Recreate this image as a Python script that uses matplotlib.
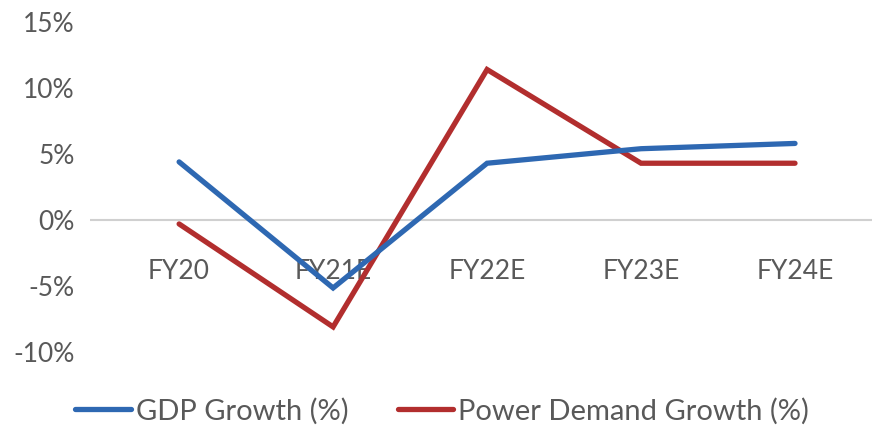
import matplotlib.pyplot as plt
import numpy as np

# data
years = ["FY20", "FY21E", "FY22E", "FY23E", "FY24E"]
gdp_growth = [4.4, -5.15, 4.3, 5.4, 5.8]
power_growth = [-0.3, -8.1, 11.4, 4.3, 4.3]

blue = "#2E68B2"
red = "#B22E2E"
grey = "#595959"

plt.rcParams['font.family'] = ['Lato', 'DejaVu Sans']

fig = plt.figure(figsize=(8.72, 4.28), dpi=100)
ax = fig.add_axes([0.103, 0.1776, 0.897, 0.771])

x = np.arange(len(years))
ax.axhline(0, color="#D0D0D0", linewidth=1.5, zorder=1)
ax.plot(x, gdp_growth, color=blue, linewidth=3.8, label="GDP Growth (%)",
        solid_capstyle="round", solid_joinstyle="miter", zorder=3)
ax.plot(x, power_growth, color=red, linewidth=3.8, label="Power Demand Growth (%)",
        solid_capstyle="round", solid_joinstyle="miter", zorder=2)

ax.set_xlim(-0.58, 4.5)
ax.set_ylim(-10, 15)
ax.set_yticks([-10, -5, 0, 5, 10, 15])
ax.set_yticklabels(["-10%", "-5%", "0%", "5%", "10%", "15%"])
ax.set_xticks(x)
ax.set_xticklabels(years)

for s in ax.spines.values():
    s.set_visible(False)
ax.spines['bottom'].set_position(('data', 0))
ax.tick_params(axis='y', length=0, pad=11, labelsize=19, labelcolor=grey)
ax.tick_params(axis='x', length=0, pad=28, labelsize=19, labelcolor=grey)

fig.legend(loc="center", bbox_to_anchor=(0.507, 0.04), ncol=2, frameon=False,
           fontsize=21, handlelength=1.9, handletextpad=0.17, columnspacing=1.7,
           labelcolor=grey)

fig.savefig("out.png", dpi=100)
